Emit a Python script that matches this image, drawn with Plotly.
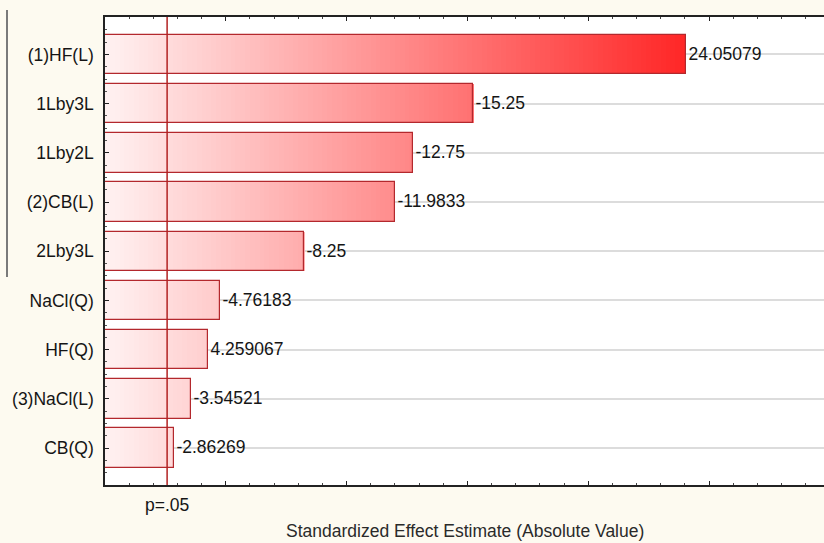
import plotly.graph_objects as go

# Pareto chart of standardized effects (t-values) for the fitted model
factors = ["(1)HF(L)", "1Lby3L", "1Lby2L", "(2)CB(L)", "2Lby3L",
           "NaCl(Q)", "HF(Q)", "(3)NaCl(L)", "CB(Q)"]
effects = [24.05079, -15.25, -12.75, -11.9833, -8.25,
           -4.76183, 4.259067, -3.54521, -2.86269]
p_critical = 2.5706          # t(0.975, df=5) -> p = .05
p_label = "p=.05"
x_title = "Standardized Effect Estimate (Absolute Value)"
major_ticks = [5, 10, 15, 20, 25]

FONT = "Liberation Sans, Arial, sans-serif"
X_MAX = 29.76
BAR_W = 0.8

positions = list(range(len(factors)))
magnitudes = [abs(v) for v in effects]


def shade(v):
    # white-to-red gradient running along the x axis
    t = min(max(v / 24.05, 0.0), 1.05)
    g = int(round(242 - t * (242 - 38)))
    g = max(0, min(255, g))
    return f"rgb(255,{g},{g})"


# Each bar is filled with thin slices so the fill follows the axis gradient
step = 0.2
seg_base, seg_len, seg_y, seg_col = [], [], [], []
for pos, mag in zip(positions, magnitudes):
    start = 0.0
    while start < mag - 1e-9:
        end = min(start + step, mag)
        seg_base.append(start)
        seg_len.append(min(end - start + 0.03, mag - start))
        seg_y.append(pos)
        seg_col.append(shade((start + end) / 2))
        start = end

fig = go.Figure()
fig.add_trace(go.Bar(
    orientation="h", base=seg_base, x=seg_len, y=seg_y, width=BAR_W,
    marker=dict(color=seg_col, line=dict(width=0)),
    hoverinfo="skip", showlegend=False,
))
# Outline and value label for each effect
fig.add_trace(go.Bar(
    orientation="h", x=magnitudes, y=positions, width=BAR_W,
    marker=dict(color="rgba(0,0,0,0)", line=dict(color="#b3282d", width=1.2)),
    text=[str(v) for v in effects], textposition="outside",
    textfont=dict(family=FONT, size=17.5, color="#151515"),
    constraintext="none", cliponaxis=False, showlegend=False,
))

fig.update_layout(
    width=824, height=543,
    margin=dict(l=105, r=0, t=17, b=58),
    paper_bgcolor="#fdfaf0", plot_bgcolor="#ffffff",
    barmode="overlay", bargap=0,
    font=dict(family=FONT, size=17.5, color="#151515"),
    xaxis=dict(
        range=[0, X_MAX], tickvals=major_ticks, showticklabels=False,
        ticks="inside", ticklen=4, tickwidth=1.3, tickcolor="#222",
        minor=dict(dtick=1, tick0=0, ticks="inside", ticklen=2,
                   tickcolor="#444", tickwidth=1),
        showline=True, linecolor="#222", linewidth=1.5, mirror="ticks",
        showgrid=False, zeroline=False,
    ),
    yaxis=dict(
        range=[len(factors) - 0.25, -0.76],
        tickvals=positions, ticktext=factors,
        ticks="inside", ticklen=4, tickwidth=1.2, tickcolor="#222",
        minor=dict(dtick=0.25, tick0=0, ticks="inside", ticklen=2,
                   tickcolor="#555", tickwidth=1),
        showline=True, linecolor="#222", linewidth=1.5,
        showgrid=True, gridcolor="#dcdcdc", gridwidth=1.5,
        zeroline=False, ticklabelstandoff=6,
        tickfont=dict(family=FONT, size=17.5, color="#151515"),
    ),
    shapes=[
        # critical value line
        dict(type="line", xref="x", yref="paper", x0=p_critical, x1=p_critical,
             y0=0, y1=1, line=dict(color="#b22222", width=1.5)),
        # frame edge at the left of the panel
        dict(type="line", xref="paper", yref="paper",
             x0=-98 / 719, x1=-98 / 719, y0=(485 - 10) / 468, y1=(485 - 277) / 468,
             line=dict(color="#7a7a7a", width=2)),
    ],
    annotations=[
        dict(text=p_label, x=p_critical, xref="x", y=0, yref="paper",
             yanchor="middle", yshift=-20, showarrow=False,
             font=dict(family=FONT, size=17.5, color="#151515")),
        dict(text=x_title, x=0.5, xref="paper", y=0, yref="paper",
             yanchor="middle", yshift=-46, showarrow=False,
             font=dict(family=FONT, size=17.5, color="#2a2a2a")),
    ],
)

fig.write_html("out.html")
